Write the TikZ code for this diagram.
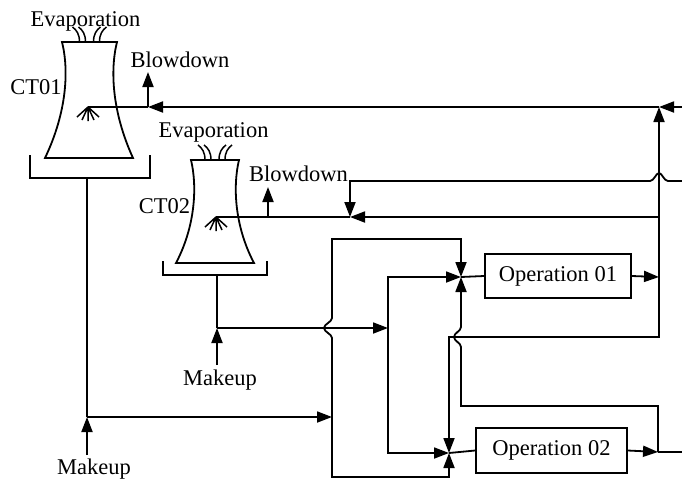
\documentclass[tikz,border=0pt]{standalone}
\usepackage{fontspec}
\setmainfont{Liberation Serif}
\usetikzlibrary{arrows.meta}
\begin{document}
\begin{tikzpicture}[x=1pt,y=-1pt,
  ln/.style={line width=1.8pt},
  thin ln/.style={line width=1.5pt},
  arr/.style={ln,-{Triangle[length=15pt,width=11pt]}},
  lbl/.style={font=\fontsize{22.5}{26}\selectfont, inner sep=0pt, anchor=base},
  opbox/.style={draw, line width=1.8pt, inner sep=0pt, font=\fontsize{22.5}{26}\selectfont},
  sprayhd/.pic={\draw[thin ln] (0,0) -- (-11,10) (0,0) -- (-6,13) (0,0) -- (0,14) (0,0) -- (6,13) (0,0) -- (11,10);},
  plumes/.pic={\draw[thin ln] (-10,0) .. controls (-10,-8) and (-13,-12) .. (-17,-15)
                               (-4,0) .. controls (-4,-8) and (-7,-12) .. (-11,-15)
                               (4,0) .. controls (4,-8) and (7,-12) .. (11,-15)
                               (10,0) .. controls (10,-8) and (13,-12) .. (17,-15);}
]
\useasboundingbox (0,0) rectangle (682,480);

% ---------- Cooling tower CT01 ----------
\draw[ln] (62,42) -- (117,42) .. controls (110,70) and (112,112) .. (133,158)
          -- (45,158) .. controls (67,112) and (69,70) .. (62,42) -- cycle;
\draw[ln] (30,155) -- (30,178) -- (150,178) -- (150,155);
\pic at (89.5,42) {plumes};
\pic at (88,107) {sprayhd};
\node[lbl] (evap1) at (85.5,26) {Evaporation};
\node[lbl] (ct1) at (36,94) {CT01};
\node[lbl] (bd1) at (180,67) {Blowdown};

% ---------- Cooling tower CT02 ----------
\draw[ln] (191,160) -- (239,160) .. controls (233,185) and (234,225) .. (254,263)
          -- (176,263) .. controls (196,225) and (197,185) .. (191,160) -- cycle;
\draw[ln] (163,261) -- (163,275) -- (267,275) -- (267,261);
\pic at (215,160) {plumes};
\pic at (216,217) {sprayhd};
\node[lbl] (evap2) at (213.5,137) {Evaporation};
\node[lbl] (ct2) at (164.5,213) {CT02};
\node[lbl] (bd2) at (298.5,181) {Blowdown};

% ---------- Makeup labels ----------
\node[lbl] (mk1) at (94,474) {Makeup};
\node[lbl] (mk2) at (220,385) {Makeup};

% ---------- Operations ----------
\node[opbox, minimum width=146pt, minimum height=44pt] (op1) at (558,276) {Operation 01};
\node[opbox, minimum width=151pt, minimum height=45pt] (op2) at (551.5,450.5) {Operation 02};

% ---------- coordinates ----------
\coordinate (s1) at (88,107);
\coordinate (s2) at (216,217);
\coordinate (b1) at (87,178);
\coordinate (b2) at (217,275);
\coordinate (m1) at (87,417);
\coordinate (m2) at (217,328);
\coordinate (j1) at (332,417);
\coordinate (k2) at (388,328);
\coordinate (J1) at (461,277);
\coordinate (J2) at (449,453);
\coordinate (K1) at (659,277);
\coordinate (K2) at (658,452);
\coordinate (T1) at (659,107);
\coordinate (T2) at (659,217);
\coordinate (B1) at (148,107);
\coordinate (B2) at (350,217);
\coordinate (R1) at (682,107);
\coordinate (R2) at (682,181);
\coordinate (R3) at (682,452);
\coordinate (bdt1) at (148,72);
\coordinate (bdt2) at (268,187);
\coordinate (bdb2) at (268,217);
\coordinate (mk1t) at (87,455);
\coordinate (mk2t) at (217,365);

% ---------- CT01 circuit ----------
\draw[ln] (b1) -- (m1);
\draw[arr] (m1) -- (j1);
\draw[arr] (mk1t) -- (m1);
\draw[arr] (j1) -- (332,338) .. controls (332,334) and (324,332) .. (324,328)
          .. controls (324,324) and (332,322) .. (332,318) -- (332,239) -- (461,239) -- (J1);
\draw[arr] (j1) -- (332,477) -- (449,477) -- (J2);

% ---------- CT02 circuit ----------
\draw[ln] (b2) -- (m2);
\draw[arr] (mk2t) -- (m2);
\draw[arr] (m2) -- (k2);
\draw[arr] (k2) -- (388,277) -- (J1);
\draw[arr] (k2) -- (388,453) -- (J2);

% ---------- Operations flows ----------
\draw[ln] (J1) -- (op1.west);
\draw[ln] (J2) -- (op2.west);
\draw[arr] (op1.east) -- (K1);
\draw[arr] (op2.east) -- (K2);
\draw[ln] (K2) -- (R3);
\draw[arr] (K2) -- (658,406) -- (461,406) -- (461,347)
          .. controls (461,343) and (454,341) .. (454,337)
          .. controls (454,333) and (461,331) .. (461,327) -- (J1);
\draw[arr] (K1) -- (659,337) -- (449,337) -- (J2);

% ---------- Return to towers ----------
\draw[arr] (K1) -- (T1);
\draw[arr] (R1) -- (T1);
\draw[arr] (T1) -- (B1);
\draw[ln] (B1) -- (s1);
\draw[arr] (B1) -- (bdt1);
\draw[arr] (T2) -- (B2);
\draw[ln] (B2) -- (s2);
\draw[arr] (bdb2) -- (bdt2);
\draw[arr] (R2) -- (668,181) .. controls (664,181) and (662,173) .. (659,173)
          .. controls (656,173) and (654,181) .. (650,181) -- (350,181) -- (B2);
\end{tikzpicture}
\end{document}
